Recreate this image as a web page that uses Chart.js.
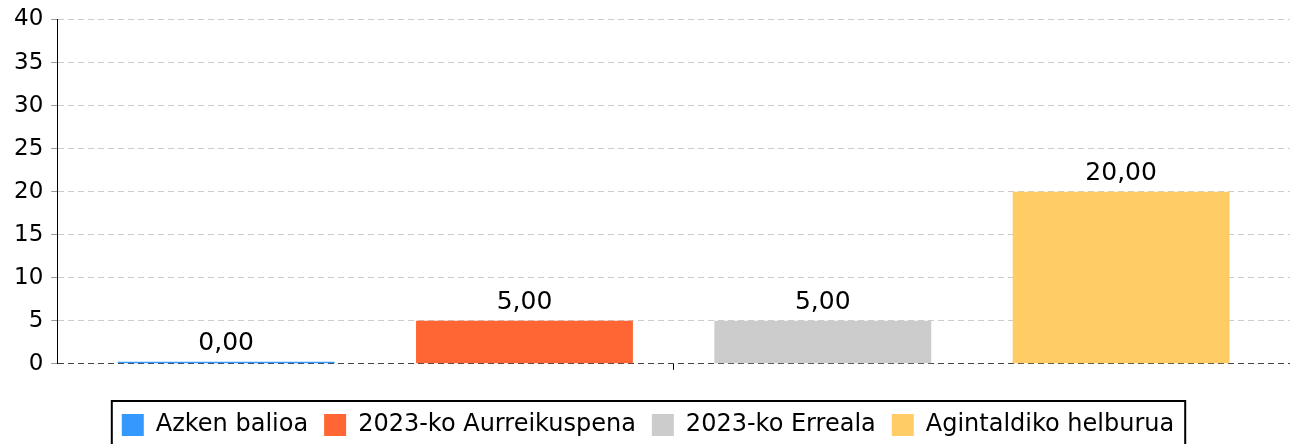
<!DOCTYPE html>
<html>
<head>
<meta charset="utf-8">
<script src="https://cdn.jsdelivr.net/npm/chart.js@4"></script>
<style>
  html, body { margin: 0; padding: 0; background: #fff; overflow: hidden; }
  #wrap { width: 1295px; height: 444px; }
</style>
</head>
<body>
<div id="wrap"><canvas id="barChart" width="1295" height="444"></canvas></div>
<script>
// values
var categories = [''];
var seriesNames = ['Azken balioa', '2023-ko Aurreikuspena', '2023-ko Erreala', 'Agintaldiko helburua'];
var seriesValues = [[0], [5], [5], [20]];
var seriesColors = ['#3399ff', '#ff6633', '#cccccc', '#ffcc66'];
var yTicks = [0, 5, 10, 15, 20, 25, 30, 35, 40];

var font = "'DejaVu Sans', sans-serif";

function fmt(v) {
    return v.toFixed(2).replace('.', ',');
}

// numbers above each bar
var valueLabels = {
    id: 'valueLabels',
    afterDatasetsDraw: function(chart) {
        var ctx = chart.ctx;
        ctx.save();
        ctx.font = '25px ' + font;
        ctx.fillStyle = '#000';
        ctx.textAlign = 'center';
        ctx.textBaseline = 'alphabetic';
        chart.data.datasets.forEach(function(ds, i) {
            chart.getDatasetMeta(i).data.forEach(function(bar, j) {
                ctx.fillText(fmt(ds.data[j]), bar.x, bar.y - 12);
            });
        });
        ctx.restore();
    }
};

// black frame round the legend
var legendFrame = {
    id: 'legendFrame',
    afterDraw: function(chart) {
        var items = chart.legend.legendHitBoxes;
        if (!items.length) return;
        var first = items[0];
        var last = items[items.length - 1];
        var left = first.left - 10;
        var right = last.left + last.width + 11;
        var top = first.top - 12;
        var ctx = chart.ctx;
        ctx.save();
        ctx.strokeStyle = '#000';
        ctx.lineWidth = 2;
        ctx.strokeRect(left, top, right - left, 80);
        ctx.restore();
    }
};

var ctx = document.getElementById('barChart').getContext('2d');
var barChart = new Chart(ctx, {
    type: 'bar',
    data: {
        labels: categories,
        datasets: seriesNames.map(function(name, i) {
            return {
                label: name,
                data: seriesValues[i],
                backgroundColor: seriesColors[i],
                borderWidth: 0,
                minBarLength: i === 0 ? 2 : 0,
                categoryPercentage: 0.968,
                barPercentage: 0.727
            };
        })
    },
    options: {
        responsive: false,
        animation: false,
        layout: { padding: { top: 6, right: 5, left: 6, bottom: -3 } },
        plugins: {
            title: { display: false },
            tooltip: { enabled: false },
            legend: {
                position: 'bottom',
                labels: {
                    font: { family: font, size: 24 },
                    color: '#000',
                    boxWidth: 22,
                    boxHeight: 22,
                    padding: 16
                }
            }
        },
        scales: {
            x: {
                grid: {
                    display: true,
                    offset: false,
                    drawOnChartArea: false,
                    tickLength: 6,
                    color: '#000'
                },
                border: { display: false },
                ticks: { display: true, font: { family: font, size: 16 }, padding: 4 }
            },
            y: {
                min: 0,
                max: 40,
                afterBuildTicks: function(axis) {
                    axis.ticks = yTicks.map(function(v) { return { value: v }; });
                },
                grid: {
                    color: function(c) { return c.tick && c.tick.value === 0 ? '#444' : '#cccccc'; },
                    tickColor: '#999',
                    tickLength: 6,
                    lineWidth: 1
                },
                border: { display: true, color: '#000', width: 1, dash: [6, 4] },
                ticks: {
                    font: { family: font, size: 23, lineHeight: 1 },
                    color: '#000',
                    padding: 8
                }
            }
        }
    },
    plugins: [valueLabels, legendFrame]
});
</script>
</body>
</html>
